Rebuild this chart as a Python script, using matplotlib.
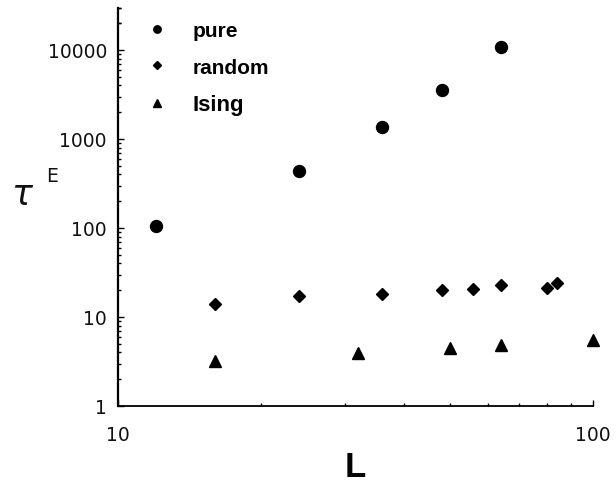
import matplotlib
matplotlib.use('Agg')
import matplotlib.pyplot as plt
from matplotlib.ticker import FixedLocator, FixedFormatter, NullFormatter

# ---- data ----
L_pure = [12, 24, 36, 48, 64]
tau_pure = [105, 440, 1360, 3550, 10800]
L_random = [16, 24, 36, 48, 56, 64, 80, 84]
tau_random = [14.0, 17.2, 18.1, 20.1, 20.6, 22.9, 21.2, 24.1]
L_ising = [16, 32, 50, 64, 100]
tau_ising = [3.2, 3.9, 4.5, 4.8, 5.5]
series_labels = ['pure', 'random', 'Ising']
yticks = [1, 10, 100, 1000, 10000]
ytick_labels = ['1', '10', '100', '1000', '10000']
xticks = [10, 100]
xtick_labels = ['10', '100']
y_minor = [m * 10 ** e for e in range(0, 5) for m in range(2, 10)]
x_minor = [20, 30, 40, 50, 60, 70, 80, 90]

W, H = 616, 485
fig = plt.figure(figsize=(W / 100, H / 100), dpi=100)
ax = fig.add_axes([118 / W, 1 - 407 / H, (593 - 118) / W, (407 - 8.5) / H])
ax.set_xscale('log')
ax.set_yscale('log')
ax.set_xlim(10, 100)
ax.set_ylim(1, 30000)

h1, = ax.plot(L_pure, tau_pure, 'o', color='black', ms=8.6, ls='none', clip_on=False)
h2, = ax.plot(L_random, tau_random, 'D', color='black', ms=6.0, ls='none', clip_on=False)
h3, = ax.plot(L_ising, tau_ising, '^', color='black', ms=8.4, ls='none', clip_on=False)

for s in ['top', 'right']:
    ax.spines[s].set_visible(False)
ax.spines['left'].set_linewidth(1.6)
ax.spines['bottom'].set_linewidth(1.3)

ax.yaxis.set_major_locator(FixedLocator(yticks))
ax.yaxis.set_major_formatter(FixedFormatter(ytick_labels))
ax.yaxis.set_minor_locator(FixedLocator(y_minor + [20000, 30000]))
ax.yaxis.set_minor_formatter(NullFormatter())
ax.xaxis.set_major_locator(FixedLocator(xticks))
ax.xaxis.set_major_formatter(FixedFormatter(xtick_labels))
ax.xaxis.set_minor_locator(FixedLocator(x_minor))
ax.xaxis.set_minor_formatter(NullFormatter())

ax.tick_params(axis='y', which='major', direction='in', length=4, width=1.0, pad=8,
               labelsize=13.5, labelcolor='#111111')
ax.tick_params(axis='y', which='minor', direction='in', length=2.5, width=1.0)
ax.tick_params(axis='x', which='major', direction='in', length=4, width=1.0, pad=14,
               labelsize=13.5, labelcolor='#111111')
ax.tick_params(axis='x', which='minor', direction='in', length=2, width=1.0)

ax.set_xlabel('L', fontsize=25, fontweight='bold', family='Liberation Sans', labelpad=4)

# y label: tau with superscript E
fig.text(22 / W, 1 - 195 / H, '\u03c4', fontsize=25, ha='center', va='center',
         family='DejaVu Sans', style='italic', color='#111111')
fig.text(52 / W, 1 - 177 / H, 'E', fontsize=13.5, ha='center', va='center',
         family='DejaVu Sans', color='#111111')

leg = ax.legend([h1, h2, h3], series_labels, loc='upper left',
                bbox_to_anchor=(147 / W, 1 - 22 / H), bbox_transform=fig.transFigure,
                frameon=False, markerscale=0.62, handlelength=1.0, handletextpad=1.2,
                labelspacing=0.85, borderpad=0, borderaxespad=0,
                prop={'family': 'Liberation Sans', 'weight': 'bold', 'size': 15})
leg.get_texts()[2].set_fontsize(16)

fig.savefig('out.png', dpi=100)
